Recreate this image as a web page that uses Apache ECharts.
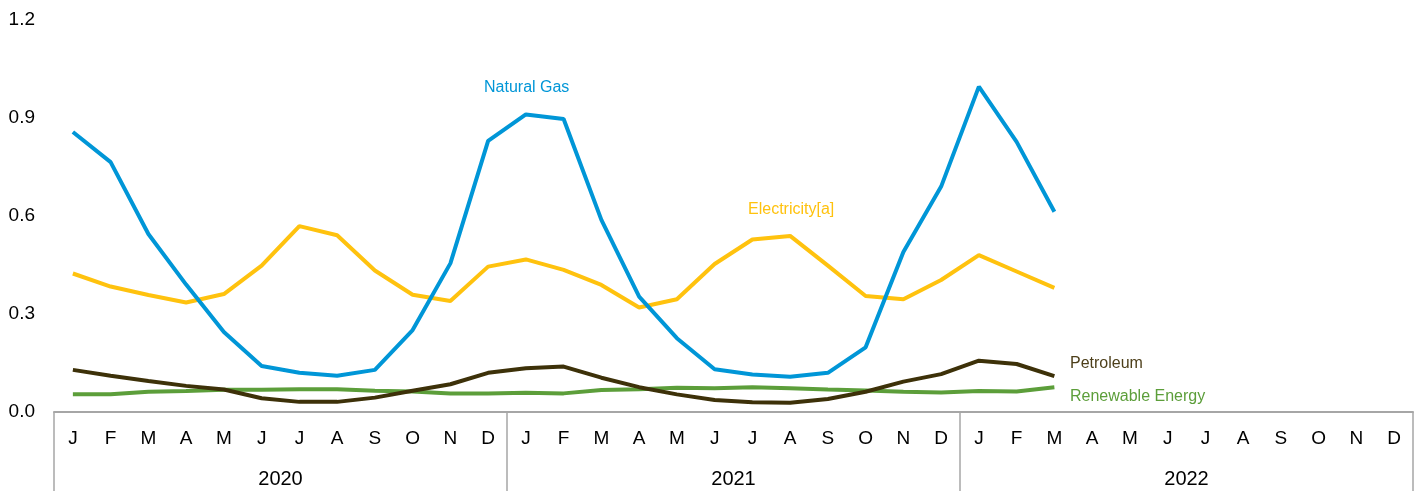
<!DOCTYPE html>
<html>
<head>
<meta charset="utf-8">
<script src="https://cdn.jsdelivr.net/npm/echarts@6/dist/echarts.min.js"></script>
<style>
  html, body { margin: 0; padding: 0; background: #fff; }
  #main { width: 1423px; height: 491px; }
</style>
</head>
<body>
<div id="main"></div>
<script>
var months = ['J','F','M','A','M','J','J','A','S','O','N','D',
              'J','F','M','A','M','J','J','A','S','O','N','D',
              'J','F','M','A','M','J','J','A','S','O','N','D'];
var years = ['2020', '2021', '2022'];

// monthly values, Jan 2020 - Mar 2022
var naturalGas = [0.857, 0.765, 0.545, 0.39, 0.245, 0.141, 0.12, 0.111, 0.129, 0.251, 0.455, 0.83,
                  0.911, 0.897, 0.588, 0.353, 0.226, 0.131, 0.115, 0.108, 0.12, 0.198, 0.49, 0.69,
                  0.996, 0.827, 0.613];
var electricity = [0.424, 0.384, 0.358, 0.335, 0.361, 0.448, 0.569, 0.541, 0.433, 0.359, 0.34, 0.445,
                   0.467, 0.435, 0.389, 0.32, 0.345, 0.453, 0.528, 0.539, 0.448, 0.355, 0.345, 0.404,
                   0.48, 0.43, 0.38];
var petroleum = [0.129, 0.111, 0.095, 0.08, 0.069, 0.042, 0.031, 0.031, 0.044, 0.065, 0.085, 0.12,
                 0.134, 0.139, 0.105, 0.076, 0.054, 0.037, 0.03, 0.028, 0.04, 0.062, 0.093, 0.116,
                 0.157, 0.147, 0.11];
var renewable = [0.054, 0.054, 0.062, 0.064, 0.068, 0.068, 0.07, 0.07, 0.065, 0.063, 0.057, 0.057,
                 0.059, 0.057, 0.067, 0.07, 0.074, 0.073, 0.076, 0.073, 0.069, 0.066, 0.062, 0.06,
                 0.064, 0.063, 0.076];

var chart = echarts.init(document.getElementById('main'));
var font = '"Liberation Sans", Arial, sans-serif';

function line(name, data, color) {
  return {
    name: name,
    type: 'line',
    data: data,
    symbol: 'none',
    smooth: false,
    lineStyle: { color: color, width: 4 },
    itemStyle: { color: color }
  };
}

var option = {
  animation: false,
  textStyle: { fontFamily: font },
  grid: { left: 54, right: 10, top: 20, bottom: 79 },
  xAxis: [{
    type: 'category',
    data: months,
    boundaryGap: true,
    axisLine: { lineStyle: { color: '#a6a6a6', width: 2 } },
    axisTick: { alignWithLabel: true, inside: true, length: 5, lineStyle: { color: '#a6a6a6' } },
    axisLabel: { interval: 0, color: '#000', fontSize: 19, fontFamily: font, margin: 17 }
  }, {
    type: 'category',
    data: years,
    position: 'bottom',
    boundaryGap: true,
    axisLine: { show: false },
    axisTick: { show: true, length: 79, lineStyle: { color: '#a6a6a6', width: 1.5 } },
    axisLabel: { color: '#000', fontSize: 20, fontFamily: font, margin: 57 }
  }],
  yAxis: {
    type: 'value',
    min: 0,
    max: 1.2,
    interval: 0.3,
    splitLine: { show: false },
    axisLine: { show: false },
    axisTick: { show: false },
    axisLabel: {
      color: '#000', fontSize: 19, fontFamily: font, margin: 19,
      formatter: function (v) { return v.toFixed(1); }
    }
  },
  series: [
    line('Renewable Energy', renewable, '#5c9e3a'),
    line('Petroleum', petroleum, '#3d3109'),
    line('Electricity[a]', electricity, '#ffc20e'),
    line('Natural Gas', naturalGas, '#0096d7')
  ],
  graphic: [
    { type: 'text', left: 484, top: 80, style: { text: 'Natural Gas', fill: '#0096d7', font: '16px ' + font } },
    { type: 'text', left: 748, top: 202, style: { text: 'Electricity[a]', fill: '#ffc20e', font: '16px ' + font } },
    { type: 'text', left: 1070, top: 356, style: { text: 'Petroleum', fill: '#4d3f1a', font: '16px ' + font } },
    { type: 'text', left: 1070, top: 389, style: { text: 'Renewable Energy', fill: '#5c9e3a', font: '16px ' + font } }
  ]
};

chart.setOption(option);
</script>
</body>
</html>
